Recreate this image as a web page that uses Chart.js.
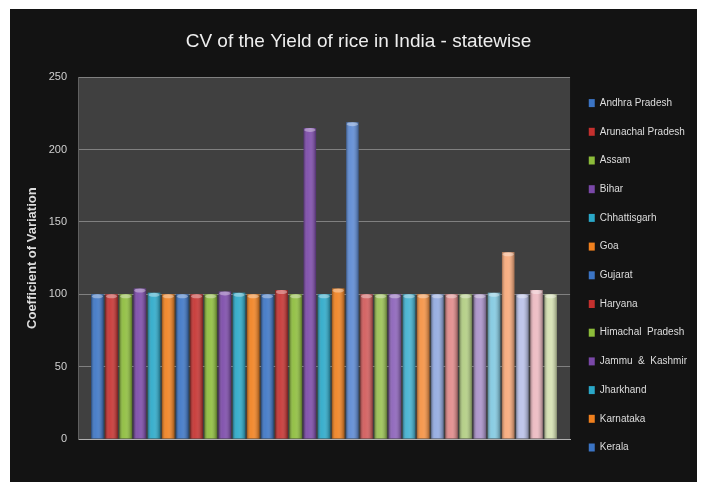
<!DOCTYPE html>
<html>
<head>
<meta charset="utf-8">
<script src="https://cdn.jsdelivr.net/npm/chart.js@4/dist/chart.umd.min.js"></script>
<style>
  html, body { margin: 0; padding: 0; background: #ffffff; }
  #frame { position: absolute; left: 10px; top: 9px; width: 687px; height: 473px; background: #131313; }
  canvas { display: block; }
</style>
</head>
<body>
<div id="frame"><canvas id="cv" width="687" height="473"></canvas></div>
<script>
// States / UTs, in the order the bars are drawn
const states = [
  'Andhra Pradesh', 'Arunachal Pradesh', 'Assam', 'Bihar', 'Chhattisgarh', 'Goa',
  'Gujarat', 'Haryana', 'Himachal  Pradesh', 'Jammu  &  Kashmir', 'Jharkhand', 'Karnataka',
  'Kerala', 'Madhya Pradesh', 'Maharashtra', 'Manipur', 'Meghalaya', 'Mizoram',
  'Nagaland', 'Orissa', 'Punjab', 'Rajasthan', 'Sikkim', 'Tamil Nadu',
  'Tripura', 'Uttar Pradesh', 'Uttarakhand', 'West Bengal', 'A & N Islands', 'D & N Haveli',
  'Daman & Diu', 'Delhi', 'Puducherry'
];

// Coefficient of variation of rice yield, one value per state
const cvValues = [
  100, 100, 100, 104, 101, 100,
  100, 100, 100, 102, 101, 100,
  100, 103, 100, 215, 100, 104,
  219, 100, 100, 100, 100, 100,
  100, 100, 100, 100, 101, 129,
  100, 103, 100
];

// Series colours (Office palette, then lighter tints)
const barColors = [
  '#3b74c4', '#c4302e', '#8cbc3a', '#7a48a8', '#2aa8c8', '#f0801e',
  '#3b74c4', '#c4302e', '#8cbc3a', '#7a48a8', '#2aa8c8', '#f0801e',
  '#3b74c4', '#c4302e', '#8cbc3a', '#7a48a8', '#2aa8c8', '#f0801e',
  '#5a88d2', '#d05858', '#98c050', '#8a60b8', '#40b0d0', '#f49040',
  '#90a8e0', '#e08888', '#b0cc80', '#a890c8', '#80c8e0', '#f8a878',
  '#b8c0e8', '#ecb8c0', '#d4e0b0'
];

const yTicks = [0, 50, 100, 150, 200, 250];
const legendShown = 13;

const FONT = "'Liberation Sans', Arial, sans-serif";

const datasets = states.map((name, i) => ({
  label: name,
  data: [cvValues[i]],
  backgroundColor: barColors[i],
  borderWidth: 0
}));

// Dark plot background
const plotBg = {
  id: 'plotBg',
  beforeDraw(chart) {
    const { ctx, chartArea: a } = chart;
    ctx.save();
    ctx.fillStyle = '#404040';
    ctx.fillRect(a.left, a.top, a.right - a.left, a.bottom - a.top);
    ctx.restore();
  }
};

// Cylinder-like shading over each bar
const barShade = {
  id: 'barShade',
  afterDatasetsDraw(chart) {
    const ctx = chart.ctx;
    chart.data.datasets.forEach((ds, di) => {
      const meta = chart.getDatasetMeta(di);
      meta.data.forEach(bar => {
        const w = bar.width, x0 = bar.x - w / 2, top = bar.y, bottom = bar.base;
        const g = ctx.createLinearGradient(x0, 0, x0 + w, 0);
        g.addColorStop(0, 'rgba(0,0,0,0.35)');
        g.addColorStop(0.3, 'rgba(255,255,255,0.08)');
        g.addColorStop(0.55, 'rgba(255,255,255,0.12)');
        g.addColorStop(1, 'rgba(0,0,0,0.35)');
        ctx.save();
        ctx.fillStyle = g;
        ctx.fillRect(x0, top, w, bottom - top);
        // light cap at the top
        ctx.fillStyle = 'rgba(255,255,255,0.35)';
        ctx.beginPath();
        ctx.ellipse(bar.x, top + 2, w / 2 - 0.5, 2, 0, 0, Math.PI * 2);
        ctx.fill();
        ctx.restore();
      });
    });
  }
};

new Chart(document.getElementById('cv'), {
  type: 'bar',
  data: { labels: [''], datasets },
  plugins: [plotBg, barShade],
  options: {
    responsive: false,
    animation: false,
    layout: { padding: { left: 10, right: 0, top: 0, bottom: 0 } },
    datasets: { bar: { categoryPercentage: 0.95, barPercentage: 0.88 } },
    plugins: {
      title: {
        display: true,
        text: 'CV of the Yield of rice in India - statewise',
        color: '#eeeeee',
        font: { family: FONT, size: 19, weight: 'normal' },
        padding: { top: 21.5, bottom: 24 }
      },
      legend: {
        position: 'right',
        align: 'start',
        title: {
          display: true,
          text: ' ',
          font: { family: FONT, size: 12 },
          padding: { top: 56, bottom: 0 }
        },
        labels: {
          color: '#dddddd',
          font: { family: FONT, size: 10 },
          boxWidth: 6,
          boxHeight: 8,
          padding: 18.7,
          filter: item => item.datasetIndex < legendShown
        }
      },
      tooltip: { enabled: false }
    },
    scales: {
      x: {
        ticks: { display: false },
        grid: { display: false },
        border: { color: '#b0b0b0', width: 1 },
        afterFit: s => { s.height = 43; }
      },
      y: {
        min: 0,
        max: 250,
        afterBuildTicks: s => { s.ticks = yTicks.map(v => ({ value: v })); },
        afterFit: s => { s.width = 58; },
        ticks: { color: '#d0d0d0', font: { family: FONT, size: 11 }, padding: 11 },
        grid: { color: '#808080', drawTicks: false },
        border: { color: '#606060' },
        title: {
          display: true,
          text: 'Coefficient of Variation',
          color: '#dddddd',
          font: { family: FONT, size: 13, weight: 'bold' },
          padding: { top: 5, bottom: 0 }
        }
      }
    }
  }
});
</script>
</body>
</html>
